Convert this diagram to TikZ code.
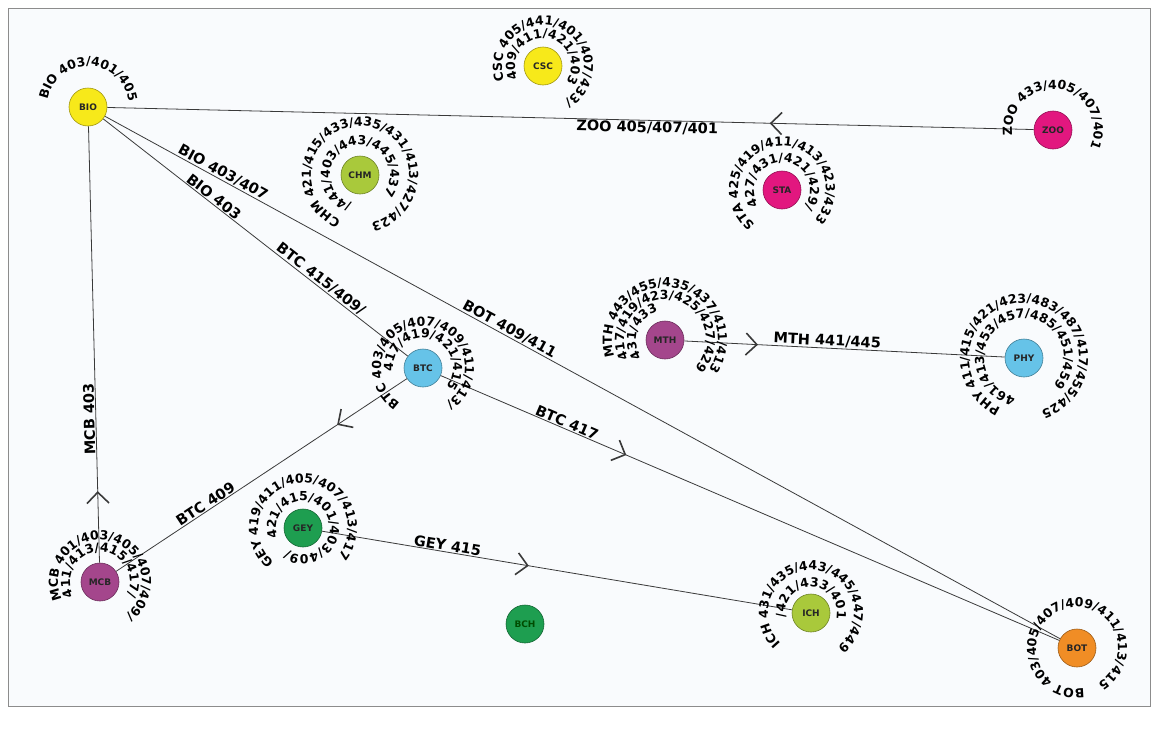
\documentclass[tikz,border=0pt]{standalone}
\usepackage{fontspec}
\usetikzlibrary{decorations.text,decorations.markings,arrows.meta}
\newfontfamily\dvs{DejaVu Sans}
\newcommand\ringfont{\dvs\bfseries\fontsize{12.5}{14}\selectfont}
\newcommand\edgefont{\dvs\bfseries\fontsize{14.5}{16}\selectfont}
\newcommand\nodefont{\dvs\bfseries\fontsize{9}{10}\selectfont}
\definecolor{cyel}{HTML}{F7E91A}
\definecolor{cmag}{HTML}{E2177F}
\definecolor{cylg}{HTML}{A9C93B}
\definecolor{cpur}{HTML}{A4468C}
\definecolor{cblu}{HTML}{66C3E8}
\definecolor{cgrn}{HTML}{1E9E50}
\definecolor{corg}{HTML}{F08D25}
\definecolor{cline}{HTML}{3A3A3A}
\definecolor{cbg}{HTML}{F9FBFD}
\tikzset{
  course/.style={circle, draw=#1!65!black, fill=#1, line width=0.6pt, minimum size=38pt, inner sep=0pt, font=\nodefont, text=black!85},
  link/.style={draw=cline, line width=0.8pt},
  elabel/.style={font=\edgefont, sloped, inner sep=1pt},
  chev/.style={postaction={decorate, decoration={markings, mark=at position #1 with {\arrow{Straight Barb[length=11pt,width=22pt,line width=1.6pt]}}}}},
}
\newcommand\ring[4]{\path[decorate, decoration={text along path, text={|\ringfont|#4}}] (#1) ++(#3:#2pt) arc[start angle=#3, delta angle=-359, radius=#2pt];}
\begin{document}
\begin{tikzpicture}[x=1pt,y=1pt]
\useasboundingbox (0,0) rectangle (1154,-731);
\fill[white] (0,0) rectangle (1154,-731);
\draw[fill=cbg, draw=black!45, line width=0.8pt] (8,-8) rectangle (1150,-706);

% nodes
\node[course=cyel] (BIO) at (88,-107) {BIO};
\node[course=cyel] (CSC) at (543,-66) {CSC};
\node[course=cmag] (ZOO) at (1053,-130) {ZOO};
\node[course=cylg] (CHM) at (360,-175) {CHM};
\node[course=cmag] (STA) at (782,-190) {STA};
\node[course=cpur] (MTH) at (665,-340) {MTH};
\node[course=cblu] (PHY) at (1024,-358) {PHY};
\node[course=cblu] (BTC) at (423,-368) {BTC};
\node[course=cpur] (MCB) at (100,-582) {MCB};
\node[course=cgrn] (GEY) at (303,-528) {GEY};
\node[course=cgrn, text=green!30!black] (BCH) at (525,-624) {BCH};
\node[course=cylg] (ICH) at (811,-613) {ICH};
\node[course=corg] (BOT) at (1077,-648) {BOT};

% connectors
\draw[link, chev=0.285] (ZOO) -- (BIO);
\draw[link, chev=0.164] (MCB) -- (BIO);
\draw[link] (BIO) -- (BTC);
\draw[link] (BIO) -- (BOT);
\draw[link, chev=0.24] (BTC) -- (MCB);
\draw[link, chev=0.30] (BTC) -- (BOT);
\draw[link, chev=0.44] (GEY) -- (ICH);
\draw[link, chev=0.23] (MTH) -- (PHY);

% edge labels
\path (BIO) -- node[elabel, pos=0.583, below] {ZOO 405/407/401} (ZOO);
\path (MCB) -- node[elabel, pos=0.33, above, allow upside down] {MCB 403} (BIO);
\path (BIO) -- node[elabel, pos=0.35, above] {BIO 403} (BTC);
\path (BIO) -- node[elabel, pos=0.70, above] {BTC 415/409/} (BTC);
\path (BIO) -- node[elabel, pos=0.12, above] {BIO 403/407} (BOT);
\path (BIO) -- node[elabel, pos=0.42, above] {BOT 409/411} (BOT);
\path (BTC) -- node[elabel, pos=0.20, above] {BTC 417} (BOT);
\path (MCB) -- node[elabel, pos=0.32, above] {BTC 409} (BTC);
\path (GEY) -- node[elabel, pos=0.265, above] {GEY 415} (ICH);
\path (MTH) -- node[elabel, pos=0.445, above] {MTH 441/445} (PHY);

% ring texts
\ring{BIO}{41}{170}{BIO 403/401/405}
\ring{CSC}{41}{200}{CSC 405/441/401/407/433/}
\ring{CSC}{28}{207}{409/411/421/403}
\ring{ZOO}{41}{188}{ZOO 433/405/407/401}
\ring{CHM}{49}{247}{CHM 421/415/433/435/431/413/427/423}
\ring{CHM}{30}{254}{/441/403/443/445/437}
\ring{STA}{44}{232}{STA 425/419/411/413/423/433}
\ring{STA}{28}{213}{427/431/421/429/}
\ring{MTH}{53}{198}{MTH 443/455/435/437/411/413}
\ring{MTH}{41}{207}{417/419/423/425/427/429}
\ring{MTH}{29}{216}{431/433}
\ring{PHY}{55}{245}{PHY 411/415/421/423/483/487/417/455/425}
\ring{PHY}{40}{258}{461/413/453/457/485/451/459}
\ring{BTC}{42}{237}{BTC 403/405/407/409/411/413/}
\ring{BTC}{30}{186}{417/419/421/415}
\ring{MCB}{42}{205}{MCB 401/403/405/407/409/}
\ring{MCB}{30}{208}{411/413/415/417/}
\ring{GEY}{45}{230}{GEY 419/411/405/407/413/417}
\ring{GEY}{27}{200}{421/415/401/403/409/}
\ring{ICH}{43}{225}{ICH 431/435/443/445/447/449}
\ring{ICH}{26}{190}{/421/433/401}
\ring{BOT}{41}{-80}{BOT 403/405/407/409/411/413/415}
\end{tikzpicture}
\end{document}
